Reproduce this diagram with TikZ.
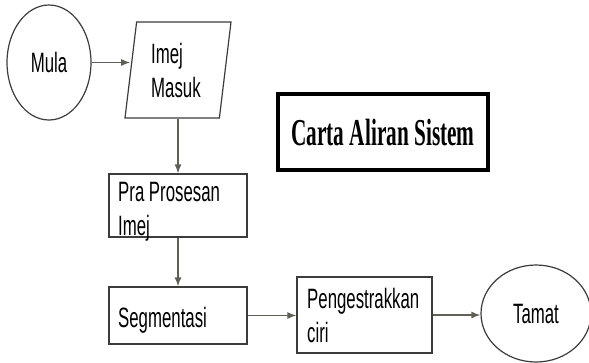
\documentclass[tikz,border=0pt]{standalone}
\usepackage{fontspec}
\newfontfamily\flowfont[FakeStretch=0.6]{Liberation Sans}
\newfontfamily\headfont[FakeStretch=0.56]{Liberation Serif}
\usetikzlibrary{shapes.geometric,arrows.meta,positioning}
\definecolor{linegray}{RGB}{60,60,60}
\definecolor{arrowgray}{RGB}{95,95,85}
\tikzset{
  term/.style={ellipse,draw=linegray,line width=1.2pt,font=\flowfont\fontsize{28}{34}\selectfont},
  inout/.style={trapezium,trapezium left angle=82,trapezium right angle=98,trapezium stretches=true,
    draw=linegray,line width=1.2pt,minimum width=106pt,minimum height=96pt},
  box/.style={rectangle,draw=linegray,line width=1.2pt},
  lbl/.style={font=\flowfont\fontsize{28}{34}\selectfont,align=left,inner sep=0pt,anchor=base west},
  titlebox/.style={rectangle,draw=black,line width=4pt,minimum width=210pt,minimum height=76pt,
    font=\headfont\bfseries\fontsize{38}{44}\selectfont},
  arr/.style={draw=arrowgray,line width=1.3pt,-{Latex[length=9pt,width=7pt]}}
}
\begin{document}
\begin{tikzpicture}[x=1pt,y=-1pt]
\useasboundingbox (0,0) rectangle (589,362);
% mula dan imej masuk
\node[term,minimum width=84pt,minimum height=115pt] (mula) at (49,62.5) {Mula};
\node[inout] (imej) at (178,70) {};
\node[lbl] (imejtxt) at (151,97) {Imej\\Masuk};
% tajuk
\node[titlebox] (tajuk) at (383,132) {Carta Aliran Sistem};
% proses
\node[box,minimum width=138pt,minimum height=63pt] (pra) at (178,205.5) {};
\node[lbl] (pratxt) at (118,235) {Pra Prosesan\\Imej};
\node[box,minimum width=138pt,minimum height=57pt] (seg) at (178,315.5) {};
\node[lbl] (segtxt) at (118,327) {Segmentasi};
\node[box,minimum width=135pt,minimum height=76pt] (peng) at (364.5,315) {};
\node[lbl] (pengtxt) at (307,342) {Pengestrakkan\\ciri};
\node[term,minimum width=110pt,minimum height=97pt] (tamat) at (536,313.5) {Tamat};
% anak panah
\draw[arr] (mula) -- (mula -| imej.west);
\draw[arr] (imej.south -| pra.north) -- (pra.north);
\draw[arr] (pra) -- (seg);
\draw[arr] (seg) -- (seg -| peng.west);
\draw[arr] (peng.east) -- (peng.east -| tamat.west);
\end{tikzpicture}
\end{document}
